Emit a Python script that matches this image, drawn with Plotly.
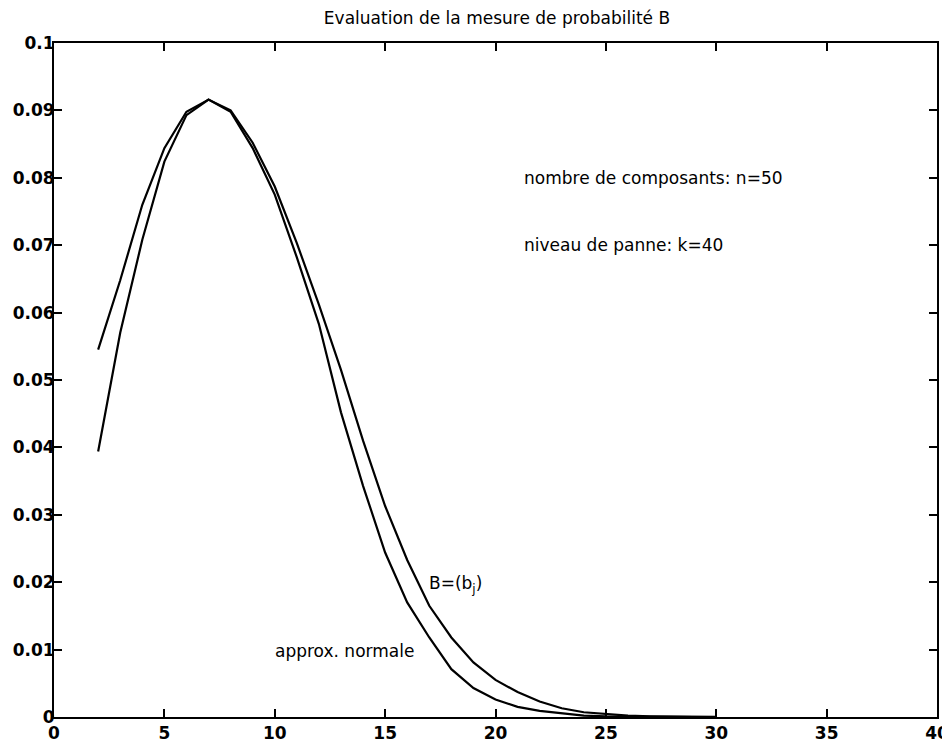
import plotly.graph_objects as go

# Data
j_values = list(range(2, 31))
b_values = [0.0545, 0.0648, 0.0760, 0.0844, 0.0898, 0.0916, 0.0900, 0.0852,
            0.0787, 0.0703, 0.0612, 0.0515, 0.0410, 0.0313, 0.0233, 0.0165,
            0.0118, 0.0081, 0.0055, 0.0037, 0.0023, 0.0013, 0.0007, 0.0004,
            0.0002, 0.0001, 0.00005, 0.00002, 0.00001]
normal_values = [0.0394, 0.0570, 0.0708, 0.0824, 0.0893, 0.0916, 0.0898, 0.0844,
                 0.0775, 0.0682, 0.0583, 0.0452, 0.0343, 0.0244, 0.0170, 0.0118,
                 0.0071, 0.0043, 0.0026, 0.0015, 0.0009, 0.0005, 0.0002, 0.0001,
                 0.00005, 0.00002, 0.00001, 0.0, 0.0]

x_ticks = [0, 5, 10, 15, 20, 25, 30, 35, 40]
y_ticks = [0, 0.01, 0.02, 0.03, 0.04, 0.05, 0.06, 0.07, 0.08, 0.09, 0.1]
y_tick_labels = ["0", "0.01", "0.02", "0.03", "0.04", "0.05", "0.06", "0.07",
                 "0.08", "0.09", "0.1"]

title_text = "Evaluation de la mesure de probabilité B"
notes = [
    (21.2, 0.080, "nombre de composants: n=50"),
    (21.2, 0.070, "niveau de panne: k=40"),
    (16.9, 0.0196, "B=(b<sub>j</sub>)"),
    (9.9, 0.0098, "approx. normale"),
]

FONT = "DejaVu Sans, Liberation Sans, Arial, sans-serif"

fig = go.Figure()
fig.add_trace(go.Scatter(x=j_values, y=b_values, mode="lines",
                         line=dict(color="black", width=2.2), name="B=(bj)"))
fig.add_trace(go.Scatter(x=j_values, y=normal_values, mode="lines",
                         line=dict(color="black", width=2.2), name="approx. normale"))

for x, y, t in notes:
    fig.add_annotation(x=x, y=y, text=t, showarrow=False, xanchor="left",
                       yanchor="middle", xref="x", yref="y",
                       font=dict(family=FONT, size=17, color="black"))

axis_common = dict(
    showgrid=False, zeroline=False, showline=True, linecolor="black",
    linewidth=2, mirror="ticks", ticks="inside", ticklen=8, tickwidth=2,
    tickcolor="black", automargin=False,
    tickfont=dict(family=FONT, size=17, color="black", weight="bold"),
)

# The page body adds an 8px offset, so the figure is sized to fill the rest.
fig.update_layout(
    width=942, height=739,
    paper_bgcolor="white", plot_bgcolor="white",
    margin=dict(l=46, r=13, t=35, b=30),
    showlegend=False,
    title=dict(text=title_text, x=489 / 942, xanchor="center",
               y=1 - 10 / 739, yanchor="middle", automargin=False,
               font=dict(family=FONT, size=17, color="black")),
    xaxis=dict(range=[0, 40], tickvals=x_ticks,
               ticktext=[str(v) for v in x_ticks], **axis_common),
    yaxis=dict(range=[0, 0.1], tickvals=y_ticks, ticktext=y_tick_labels,
               ticklabelstandoff=-6, **axis_common),
)

fig.write_html("out.html")
